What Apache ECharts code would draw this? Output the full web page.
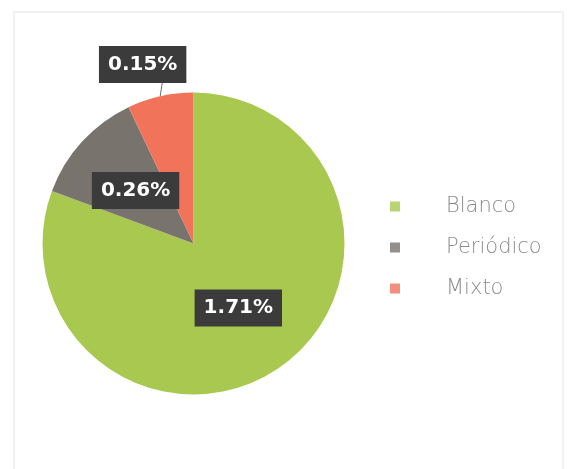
<!DOCTYPE html>
<html>
<head>
<meta charset="utf-8">
<script src="https://cdn.jsdelivr.net/npm/echarts@6/dist/echarts.min.js"></script>
<style>
  html, body { margin: 0; padding: 0; background: #fff; }
  #chart { width: 568px; height: 469px; }
</style>
</head>
<body>
<div id="chart"></div>
<script>
// Share of each ballot type (percent of total votes)
const categories = ['Blanco', 'Periódico', 'Mixto'];
const values = [1.71, 0.26, 0.15];
const colors = ['#a9c850', '#79736e', '#f0735a'];

const chart = echarts.init(document.getElementById('chart'));

const labelBox = {
  color: '#fff',
  fontFamily: '"DejaVu Sans", sans-serif',
  fontWeight: 'bold',
  fontSize: 20,
  lineHeight: 24,
  backgroundColor: '#3b3b3b',
  padding: [7, 9, 6, 9],
  formatter: p => p.value.toFixed(2) + '%'
};

const data = categories.map((name, i) => {
  const item = { name, value: values[i], itemStyle: { color: colors[i] } };
  if (name === 'Mixto') {
    // the smallest slice carries its label above the pie, tied by a short leader
    item.label = Object.assign({}, labelBox, { position: 'outside', offset: [34, -19] });
    item.labelLine = { show: true, length: 13, length2: 0, lineStyle: { color: '#6a6a6a', width: 1 } };
  }
  return item;
});

chart.setOption({
  animation: false,
  backgroundColor: '#fff',
  graphic: [{
    type: 'rect',
    shape: { x: 14, y: 12, width: 549, height: 470 },
    style: { fill: 'none', stroke: '#ededed', lineWidth: 1.5 }
  }],
  legend: {
    orient: 'vertical',
    left: 385,
    top: 189,
    icon: 'rect',
    itemWidth: 10,
    itemHeight: 10,
    itemGap: 16,
    data: categories,
    itemStyle: { opacity: 0.8 },
    textStyle: {
      color: '#8c8c8c',
      fontSize: 21,
      lineHeight: 25,
      fontWeight: 200,
      fontFamily: '"DejaVu Sans", sans-serif',
      padding: [0, 0, 0, 41]
    }
  },
  series: [{
    type: 'pie',
    center: [193.5, 243.5],
    radius: [0, 151],
    startAngle: 90,
    clockwise: true,
    avoidLabelOverlap: false,
    label: Object.assign({ show: true, position: 'inside' }, labelBox),
    labelLine: { show: false },
    emphasis: { disabled: true },
    // keep the leader of the outside label running from the slice's mid-arc up to the box
    labelLayout: function (params) {
      if (!params.labelLinePoints) return {};
      const p0 = params.labelLinePoints[0];
      const r = params.labelRect;
      const top = [p0[0] + 2, r.y + r.height];
      return { labelLinePoints: [p0, top, top] };
    },
    data
  }]
});
</script>
</body>
</html>
